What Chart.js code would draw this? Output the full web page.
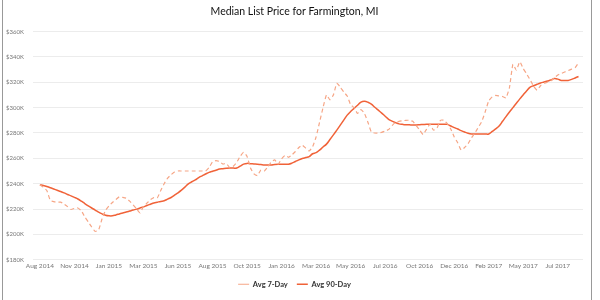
<!DOCTYPE html>
<html>
<head>
<meta charset="utf-8">
<script src="https://cdn.jsdelivr.net/npm/chart.js@4.4.0/dist/chart.umd.min.js"></script>
<style>
  html, body { margin: 0; padding: 0; background: #fff; }
  #wrap { position: relative; width: 600px; height: 300px; }
  #frame { position: absolute; left: 2px; top: 0; width: 590px; height: 300px; box-sizing: border-box;
           border-left: 1px solid #999; border-right: 1px solid #999; pointer-events: none; }
</style>
</head>
<body>
<div id="wrap">
  <canvas id="chart" width="600" height="300"></canvas>
  <div id="frame"></div>
</div>
<script>
// weekly points, Aug 31 2014 .. Aug 27 2017 (index = week number)
const weeks = Array.from({ length: 157 }, (_, i) => i);

// labels shown every 10 weeks
const tickLabels = ["Aug 2014", "Nov 2014", "Jan 2015", "Mar 2015", "Jun 2015", "Aug 2015",
  "Oct 2015", "Jan 2016", "Mar 2016", "May 2016", "Jul 2016", "Oct 2016", "Dec 2016",
  "Feb 2017", "May 2017", "Jul 2017"];

// median list price, $K
const avg7 = [
  239.2, 237.2, 234.6, 226.9, 225.8, 225.4, 225.4, 223.8, 221.9, 219.6,
  220.5, 220.8, 218.6, 213.8, 209.8, 205.8, 202.3, 203.5, 212.3, 218.8,
  222.5, 225.1, 227.5, 229.6, 229.2, 228.5, 226.2, 223.2, 220.0, 216.9,
  222.0, 224.6, 227.3, 229.0, 228.8, 234.6, 240.0, 244.4, 247.1, 249.2,
  250.0, 250.0, 250.0, 250.0, 250.0, 250.0, 250.0, 250.0, 250.0, 252.7,
  257.3, 258.2, 257.5, 255.5, 255.9, 252.7, 253.8, 256.8, 261.5, 264.8,
  261.5, 252.3, 247.7, 246.4, 250.8, 250.0, 253.1, 257.1, 258.8, 255.4,
  259.6, 262.3, 260.8, 262.7, 265.4, 268.5, 270.4, 268.0, 265.8, 269.2,
  276.9, 288.5, 300.0, 310.0, 306.2, 310.0, 319.2, 316.2, 312.3, 309.2,
  302.3, 300.0, 295.4, 298.5, 295.4, 288.5, 280.8, 280.0, 280.0, 280.5,
  281.5, 282.7, 285.8, 288.5, 289.2, 289.6, 290.0, 290.0, 289.2, 285.8,
  282.3, 278.8, 283.1, 286.9, 282.3, 283.8, 290.0, 290.0, 287.3, 283.1,
  276.9, 272.3, 266.5, 268.5, 271.5, 276.2, 280.0, 284.6, 289.2, 296.9,
  305.4, 308.5, 309.6, 309.2, 308.8, 307.7, 315.8, 334.2, 329.6, 336.2,
  330.8, 326.5, 321.9, 316.9, 313.8, 317.3, 319.2, 320.0, 321.2, 323.5,
  325.8, 326.9, 328.1, 329.2, 330.4, 331.5, 335.4
];
const avg90 = [
  239.2, 238.5, 237.7, 236.8, 235.8, 234.8, 233.8, 232.7, 231.5, 230.4,
  229.2, 227.9, 226.2, 224.3, 222.5, 220.8, 219.2, 217.5, 216.2, 215.1,
  214.6, 214.6, 215.3, 216.1, 216.9, 217.6, 218.4, 219.2, 219.9, 220.8,
  221.7, 222.8, 223.8, 224.8, 225.4, 226.0, 226.5, 227.8, 229.1, 231.0,
  232.8, 234.9, 237.3, 239.8, 241.5, 243.0, 244.8, 246.2, 247.6, 248.9,
  249.8, 250.6, 251.5, 251.8, 252.1, 252.3, 252.3, 252.3, 253.8, 255.4,
  256.0, 255.8, 255.6, 255.4, 255.1, 254.8, 254.7, 254.8, 255.1, 255.3,
  255.4, 255.4, 255.4, 256.2, 257.5, 258.8, 259.8, 260.6, 261.4, 263.6,
  264.5, 266.5, 268.9, 271.2, 274.8, 278.5, 282.3, 286.2, 290.2, 294.1,
  296.9, 299.4, 301.9, 304.4, 305.0, 304.3, 302.8, 300.3, 298.0, 295.7,
  293.2, 290.8, 289.3, 288.2, 287.2, 286.8, 286.5, 286.4, 286.2, 286.3,
  286.5, 286.7, 286.9, 286.9, 286.9, 286.9, 286.9, 286.9, 286.8, 285.5,
  284.2, 283.1, 281.9, 280.8, 279.8, 279.2, 279.2, 279.2, 279.2, 279.2,
  279.2, 281.2, 283.2, 285.5, 289.2, 292.9, 296.5, 300.0, 303.5, 306.9,
  310.1, 313.3, 316.2, 317.3, 318.4, 319.4, 320.2, 321.0, 321.8, 322.9,
  322.5, 321.5, 321.5, 321.5, 322.3, 323.4, 324.6
];

const ctx = document.getElementById("chart").getContext("2d");

new Chart(ctx, {
  type: "line",
  data: {
    labels: weeks,
    datasets: [
      {
        label: "Avg 7-Day",
        data: avg7,
        borderColor: "#f6a686",
        backgroundColor: "#f6a686",
        borderWidth: 1.2,
        borderDash: [4, 3],
        pointRadius: 0,
        tension: 0.15,
      },
      {
        label: "Avg 90-Day",
        data: avg90,
        borderColor: "#f06238",
        backgroundColor: "#f06238",
        borderWidth: 1.5,
        pointRadius: 0,
        tension: 0.4,
      },
    ],
  },
  options: {
    responsive: false,
    animation: false,
    layout: { padding: { left: 6, right: 17, top: 4, bottom: 2 } },
    plugins: {
      title: {
        display: true,
        text: "Median List Price for Farmington, MI",
        color: "#111",
        font: { family: "Lato", size: 10.5, weight: "normal" },
        padding: { top: 1, bottom: 14 },
      },
      legend: {
        position: "bottom",
        labels: {
          usePointStyle: true,
          pointStyle: "line",
          pointStyleWidth: 11,
          boxHeight: 7,
          padding: 9,
          color: "#333",
          font: { family: "Lato", size: 7.5, weight: "bold" },
        },
      },
      tooltip: { enabled: false },
    },
    scales: {
      x: {
        type: "linear",
        min: -2,
        max: 157.3,
        grid: { display: false, drawTicks: false },
        border: { display: false },
        ticks: {
          stepSize: 10,
          includeBounds: false,
          autoSkip: false,
          maxRotation: 0,
          padding: 2,
          color: "#777",
          font: { family: "Lato", size: 6.5 },
          callback: (v) => (v % 10 === 0 && tickLabels[v / 10]) ? tickLabels[v / 10] : "",
        },
      },
      y: {
        min: 180,
        max: 360,
        afterFit: (s) => { s.width = 27; },
        grid: { color: "#ececec", drawTicks: false },
        border: { display: false },
        ticks: {
          stepSize: 20,
          crossAlign: "far",
          padding: 4,
          color: "#777",
          font: { family: "Lato", size: 6 },
          callback: (v) => "$" + v + "K",
        },
      },
    },
  },
});
</script>
</body>
</html>
